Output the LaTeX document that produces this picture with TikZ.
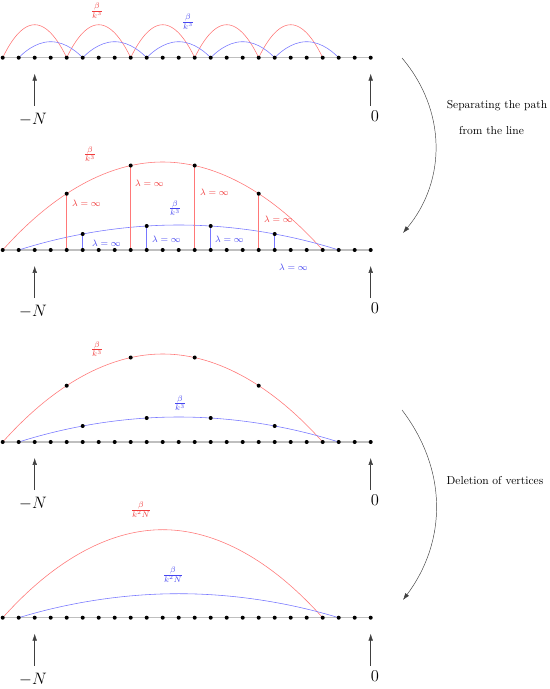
\documentclass[tikz,border=0pt]{standalone}
\usetikzlibrary{arrows.meta}
\definecolor{arcred}{RGB}{255,120,120}
\definecolor{arcblue}{RGB}{120,120,255}
\definecolor{txtred}{RGB}{240,60,60}
\definecolor{txtblue}{RGB}{70,70,240}
\tikzset{
  axisline/.style={gray!50, line width=1.3pt},
  vdot/.style={circle, fill=black, inner sep=0pt, minimum size=3.5pt},
  redline/.style={arcred, line width=0.5pt},
  blueline/.style={arcblue, line width=0.5pt},
  uparrow/.style={-{Latex[length=6pt,width=4pt]}, line width=0.4pt, black!75},
  steparrow/.style={-{Latex[length=6pt,width=4pt]}, line width=0.4pt, black!75},
  endlabel/.style={inner sep=0pt, font=\Large},
  redlab/.style={inner sep=0pt, text=txtred},
  bluelab/.style={inner sep=0pt, text=txtblue},
  lamred/.style={inner sep=0pt, anchor=west, text=txtred, font=\footnotesize},
  lamblue/.style={inner sep=0pt, anchor=west, text=txtblue, font=\footnotesize},
  sidetext/.style={inner sep=0pt, font=\normalsize},
}
\newcommand\axisbase[1]{%
  \foreach \i in {0,...,23}{\coordinate (#1-\i) at ({2.7+16*\i},0);}
  \draw[axisline] (#1-0) -- (#1-23);
  \coordinate (#1-nt) at (34.7,48); \coordinate (#1-nh) at (34.7,16);
  \coordinate (#1-zt) at (370.7,48); \coordinate (#1-zh) at (370.7,16);
  \draw[uparrow] (#1-nt) -- (#1-nh);
  \draw[uparrow] (#1-zt) -- (#1-zh);
  \node[endlabel] (#1-N) at (33,62) {$-N$};
  \node[endlabel] (#1-Z) at (375,58) {$0$};
}
\newcommand\axisdots[1]{\foreach \i in {0,...,23}{\node[vdot] (#1-d\i) at (#1-\i) {};}}
\newcommand\bigarcs[3]{%
  \coordinate (#1-rb) at (162.7,-#2);
  \coordinate (#1-bb) at (178.7,-#3);
  \draw[redline] (#1-0) parabola bend (#1-rb) (#1-20);
  \draw[blueline] (#1-1) parabola bend (#1-bb) (#1-21);
}
\newcommand\arcpoints[1]{%
  \coordinate (#1-r4) at (66.7,-56.32);
  \coordinate (#1-r8) at (130.7,-84.48);
  \coordinate (#1-r12) at (194.7,-84.48);
  \coordinate (#1-r16) at (258.7,-56.32);
  \coordinate (#1-b5) at (82.7,-16);
  \coordinate (#1-b9) at (146.7,-24);
  \coordinate (#1-b13) at (210.7,-24);
  \coordinate (#1-b17) at (274.7,-16);
}
\newcommand\arcdots[1]{%
  \foreach \k in {r4,r8,r12,r16,b5,b9,b13,b17}{\node[vdot] (#1-d\k) at (#1-\k) {};}
}
\begin{document}
\begin{tikzpicture}[x=0.87pt,y=-0.87pt]
\useasboundingbox (0,0) rectangle (550,689);
% ---------- panel 1 ----------
\begin{scope}[shift={(0,57.7)}]
  \axisbase{A}
  \foreach \k [evaluate=\k as \m using int(\k+4)] in {0,4,8,12,16}{
    \coordinate (A-rt\k) at ({2.7+16*\k+32},-33);
    \draw[redline] (A-\k) parabola bend (A-rt\k) (A-\m);
  }
  \foreach \k [evaluate=\k as \m using int(\k+4)] in {1,5,9,13,17}{
    \coordinate (A-bt\k) at ({2.7+16*\k+32},-16);
    \draw[blueline] (A-\k) parabola bend (A-bt\k) (A-\m);
  }
  \axisdots{A}
  \node[redlab] (A-rl) at (97,-47) {$\frac{\beta}{k^3}$};
  \node[bluelab] (A-bl) at (188,-36) {$\frac{\beta}{k^3}$};
\end{scope}
% ---------- panel 2 ----------
\begin{scope}[shift={(0,250)}]
  \axisbase{B}
  \bigarcs{B}{88}{25}
  \arcpoints{B}
  \draw[redline] (B-r4) -- (B-4);
  \draw[redline] (B-r8) -- (B-8);
  \draw[redline] (B-r12) -- (B-12);
  \draw[redline] (B-r16) -- (B-16);
  \draw[blueline] (B-b5) -- (B-5);
  \draw[blueline] (B-b9) -- (B-9);
  \draw[blueline] (B-b13) -- (B-13);
  \draw[blueline] (B-b17) -- (B-17);
  \axisdots{B}
  \arcdots{B}
  \node[redlab] (B-rl) at (90,-96) {$\frac{\beta}{k^3}$};
  \node[bluelab] (B-bl) at (175,-42) {$\frac{\beta}{k^3}$};
  \node[lamred] (B-l1) at (72,-47) {$\lambda=\infty$};
  \node[lamred] (B-l2) at (135,-67) {$\lambda=\infty$};
  \node[lamred] (B-l3) at (200,-58) {$\lambda=\infty$};
  \node[lamred] (B-l4) at (264,-31) {$\lambda=\infty$};
  \node[lamblue] (B-m1) at (92,-7) {$\lambda=\infty$};
  \node[lamblue] (B-m2) at (152,-11) {$\lambda=\infty$};
  \node[lamblue] (B-m3) at (215,-11) {$\lambda=\infty$};
  \node[lamblue] (B-m4) at (279,17) {$\lambda=\infty$};
\end{scope}
% ---------- panel 3 ----------
\begin{scope}[shift={(0,442)}]
  \axisbase{C}
  \bigarcs{C}{88}{25}
  \arcpoints{C}
  \axisdots{C}
  \arcdots{C}
  \node[redlab] (C-rl) at (97,-93) {$\frac{\beta}{k^3}$};
  \node[bluelab] (C-bl) at (180,-39) {$\frac{\beta}{k^3}$};
\end{scope}
% ---------- panel 4 ----------
\begin{scope}[shift={(0,617.7)}]
  \axisbase{D}
  \bigarcs{D}{88}{24}
  \axisdots{D}
  \node[redlab] (D-rl) at (141,-108) {$\frac{\beta}{k^2N}$};
  \node[bluelab] (D-bl) at (173,-43) {$\frac{\beta}{k^2N}$};
\end{scope}
% ---------- transition arrows ----------
\coordinate (s1a) at (402,58);
\coordinate (s1b) at (403,233);
\draw[steparrow] (s1a) to[bend left=40] (s1b);
\node[sidetext] (t1) at (497,106) {Separating the path};
\node[sidetext] (t2) at (491.5,131) {from the line};
\coordinate (s2a) at (402,410);
\coordinate (s2b) at (403,600);
\draw[steparrow] (s2a) to[bend left=37] (s2b);
\node[sidetext] (t3) at (495,481) {Deletion of vertices};
\end{tikzpicture}
\end{document}
